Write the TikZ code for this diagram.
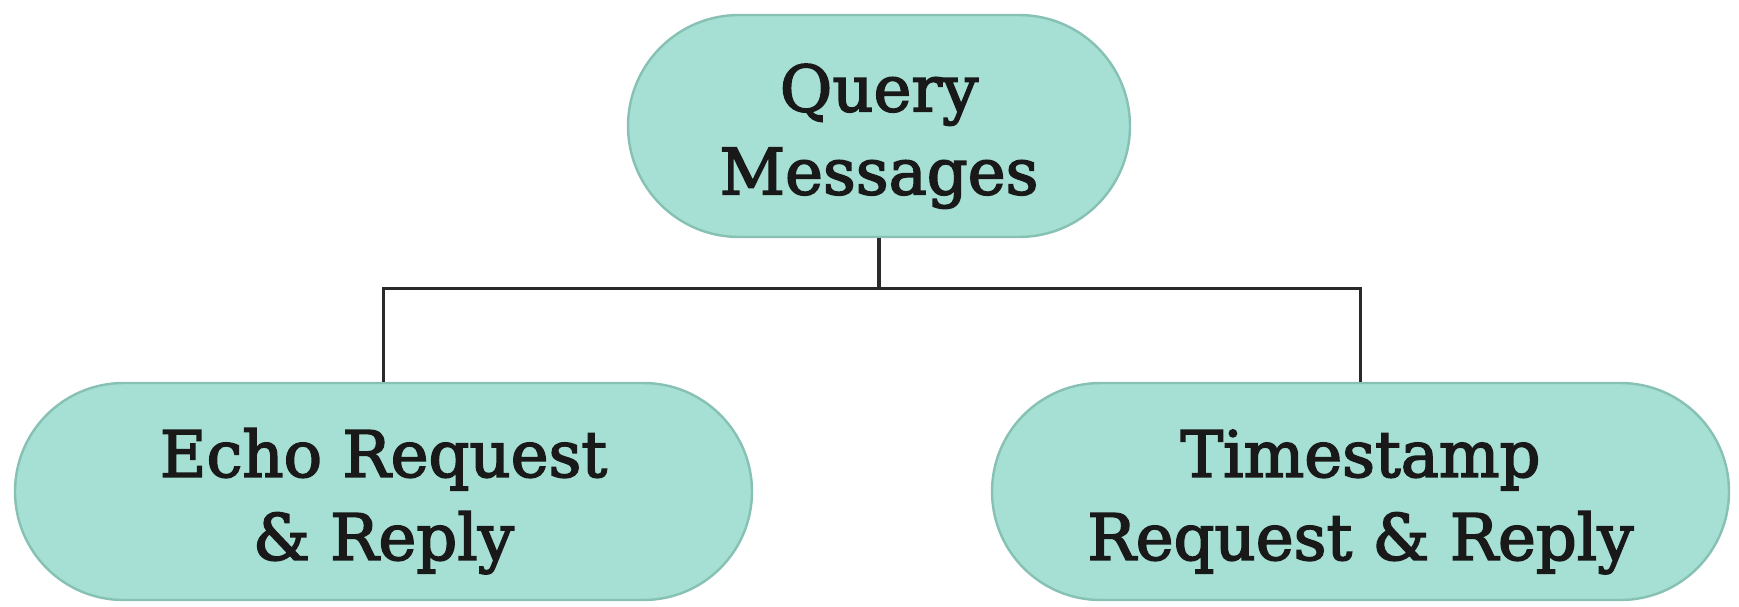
\documentclass[tikz,border=0pt]{standalone}
\usepackage{fontspec}
\setmainfont{DejaVu Serif}
\newfontfamily\boxfont{DejaVu Serif}[FakeBold=2.5]
\usetikzlibrary{positioning,shapes.misc}
\definecolor{tealfill}{HTML}{A6DFD3}
\definecolor{tealedge}{HTML}{86C1B4}
\definecolor{linkgray}{HTML}{2A2A2A}
\newcommand\toppad{\rule{0pt}{34pt}}

\begin{document}
\begin{tikzpicture}[every node/.style={rounded rectangle,draw=tealedge,fill=tealfill,line width=1.2pt,inner sep=0pt,align=center,text=black!90,font=\boxfont\fontsize{32}{41.5}\selectfont},link/.style={draw=linkgray,line width=1.7pt}]
  \useasboundingbox (0,0) rectangle (869.5pt,-303pt);
  \node (query) [minimum width=251pt,minimum height=111pt] at (439.5pt,-63pt) {\toppad Query\\Messages};
  \node (echo) [minimum width=368.5pt,minimum height=108.5pt] at (191.75pt,-245.75pt) {\toppad Echo Request\\\& Reply};
  \node (stamp) [minimum width=368.5pt,minimum height=108.5pt] at (680.25pt,-245.75pt) {\toppad Timestamp\\Request \& Reply};
  \draw[link] (query.south) -- ++(0,-25pt) coordinate (bus);
  \draw[link] (bus) -| (echo.north); \draw[link] (bus) -| (stamp.north);
\end{tikzpicture}
\end{document}
